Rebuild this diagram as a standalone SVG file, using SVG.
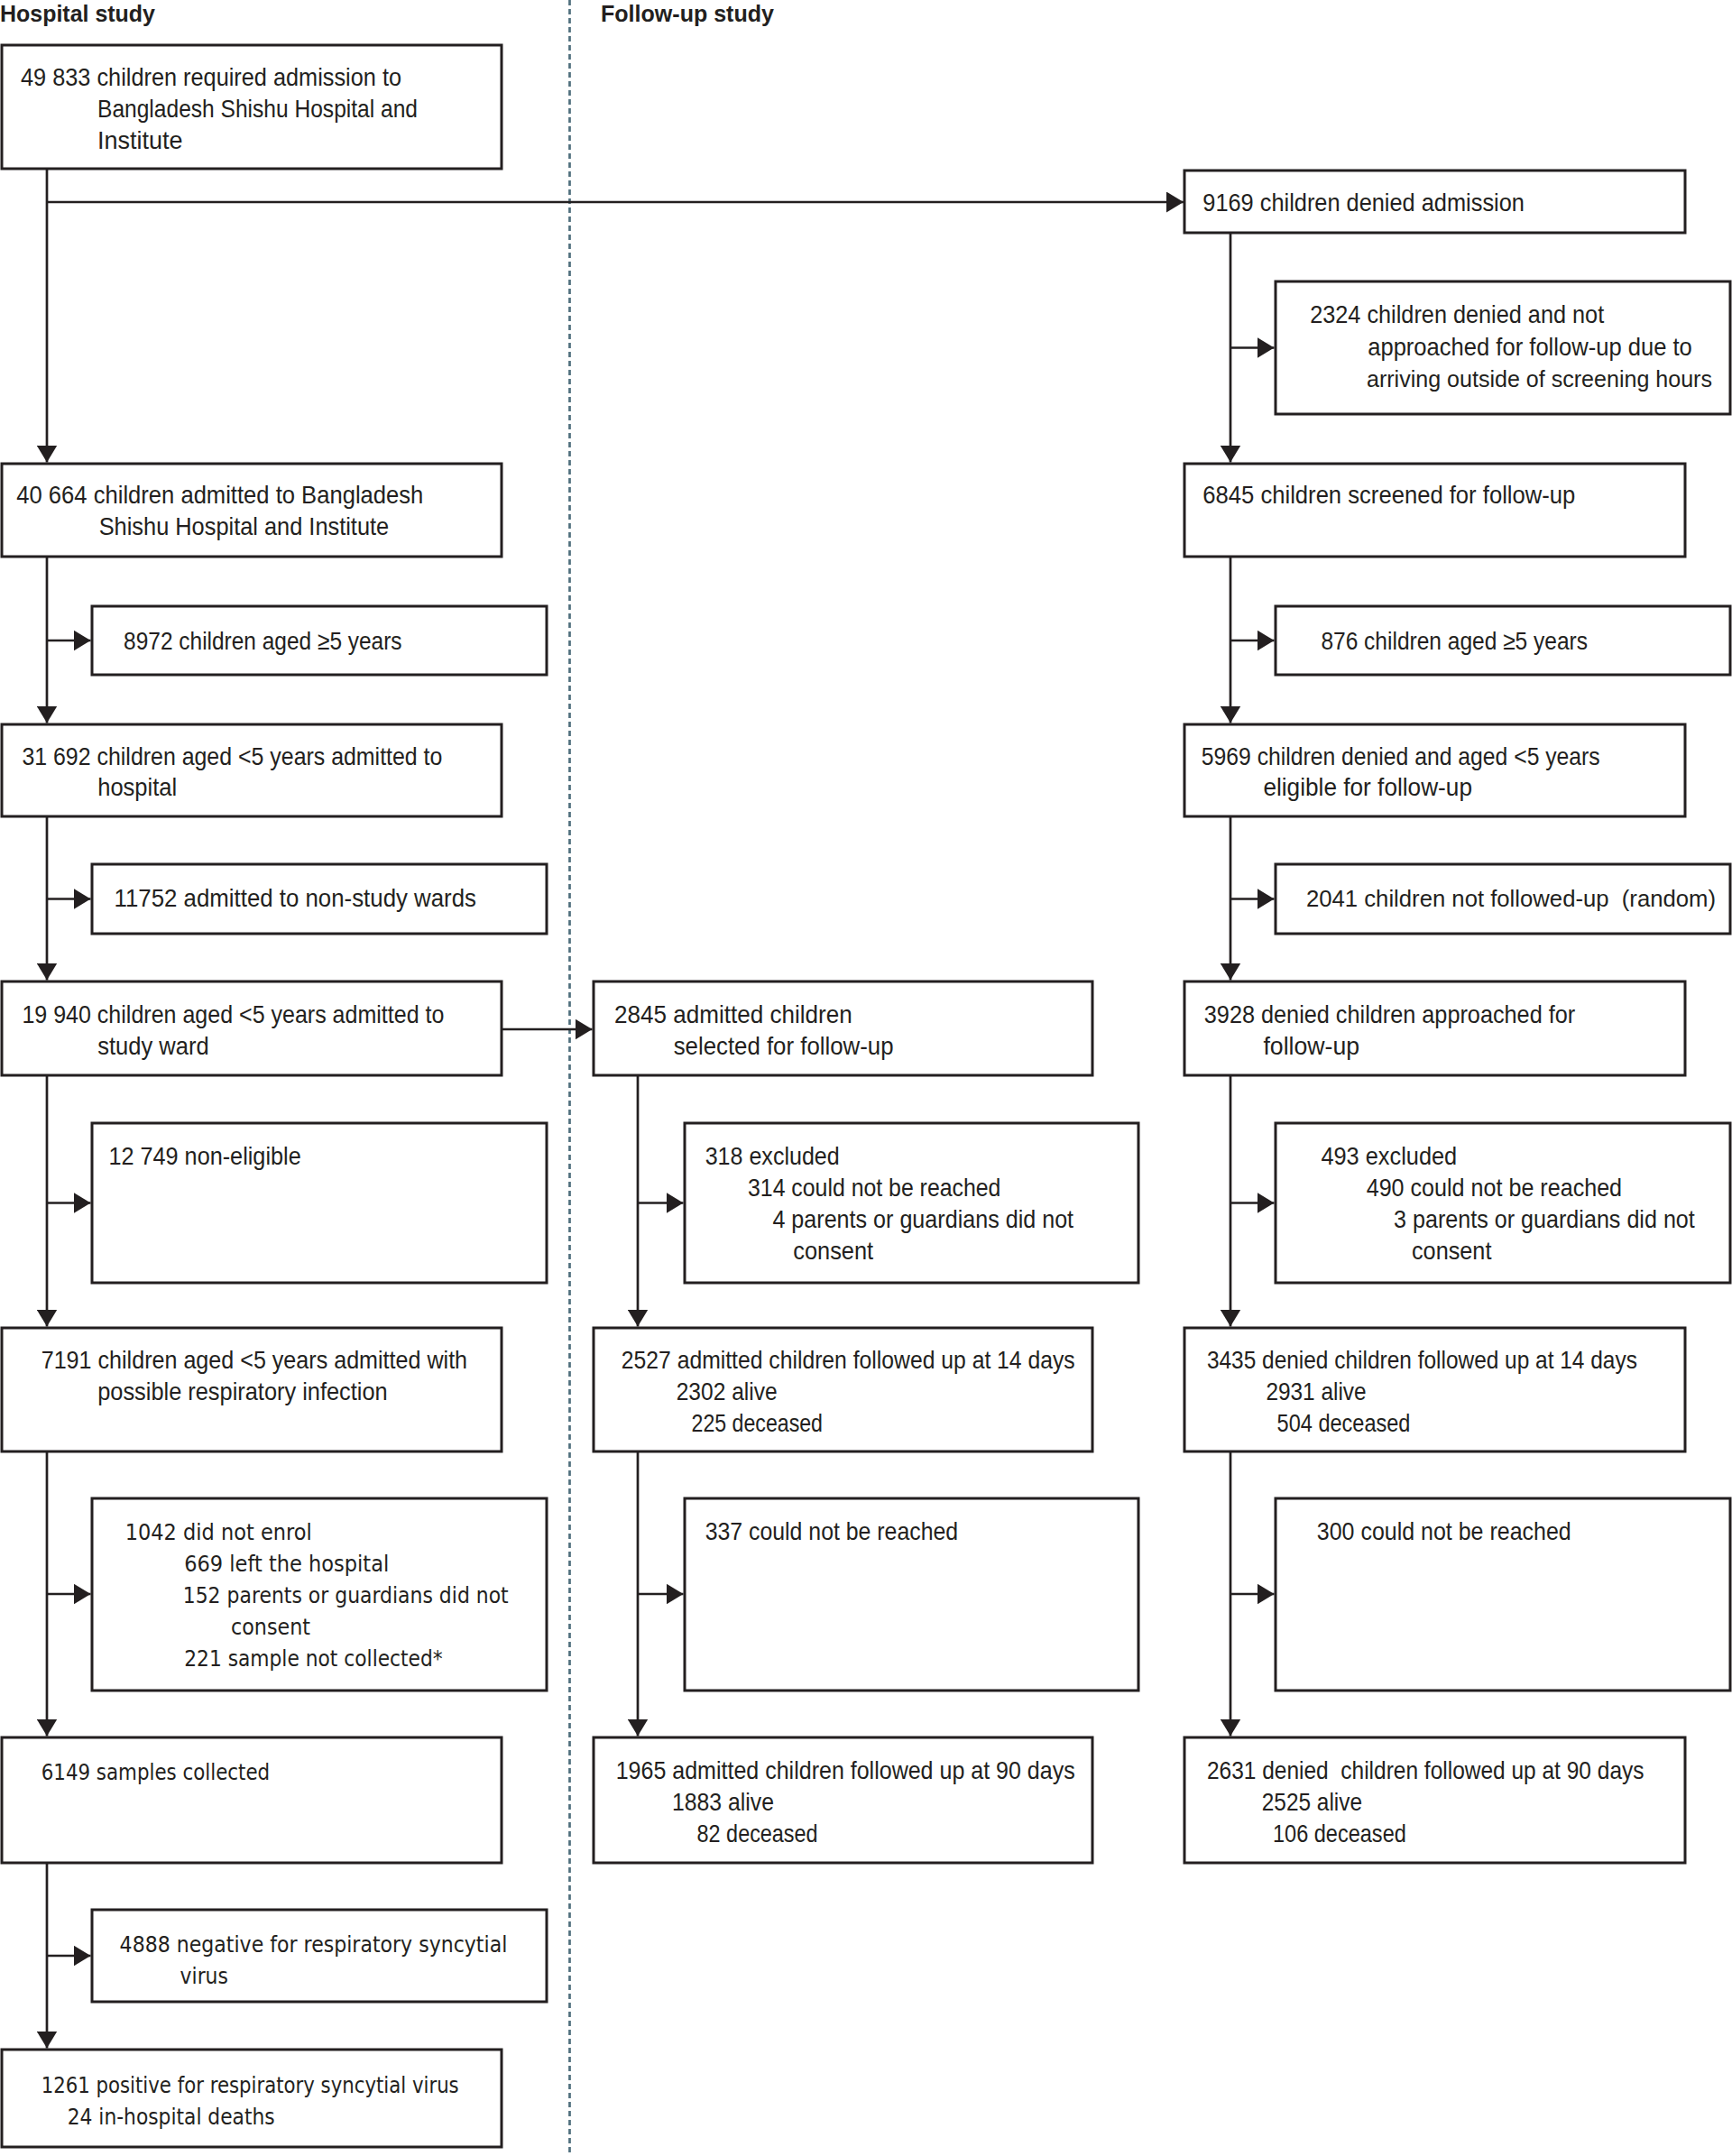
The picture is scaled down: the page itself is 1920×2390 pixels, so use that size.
<svg xmlns="http://www.w3.org/2000/svg" width="1920" height="2390" viewBox="0 0 1920 2390">
<style>
.bg{fill:#ffffff}
.box{fill:#ffffff;stroke:#231f20;stroke-width:3}
.c{stroke:#231f20;stroke-width:2.7;fill:none}
.t{font-family:"Liberation Sans Narrow","Liberation Sans",Arial,sans-serif;font-size:28px;fill:#231f20}
.s{font-size:26px}
.l{font-family:"DejaVu Sans","Noto Sans",sans-serif;font-size:25px;fill:#231f20}
.h{font-family:"Liberation Sans Narrow","Liberation Sans",Arial,sans-serif;font-size:26px;font-weight:bold;fill:#231f20}
.div{stroke:#4f6f7d;stroke-width:2.7;stroke-dasharray:6 4;fill:none}
</style>
<defs>
<marker id="ah" markerUnits="userSpaceOnUse" markerWidth="19" markerHeight="23" refX="19" refY="11.5" orient="auto">
<path d="M0,0 L19,11.5 L0,23 Z" fill="#231f20"/>
</marker>
</defs>
<rect class="bg" x="0" y="0" width="1920" height="2390"/>
<g id="headers">
<text class="h" x="0" y="24" textLength="172" lengthAdjust="spacingAndGlyphs">Hospital study</text>
<text class="h" x="666" y="24" textLength="192" lengthAdjust="spacingAndGlyphs">Follow-up study</text>
</g>
<line id="divider" class="div" x1="631.5" y1="0" x2="631.5" y2="2390"/>
<g id="connectors">
<line class="c" x1="52" y1="187.5" x2="52" y2="512.5" marker-end="url(#ah)"/>
<line class="c" x1="52" y1="224" x2="1312" y2="224" marker-end="url(#ah)"/>
<line class="c" x1="52" y1="617" x2="52" y2="801.5" marker-end="url(#ah)"/>
<line class="c" x1="52" y1="710" x2="100.5" y2="710" marker-end="url(#ah)"/>
<line class="c" x1="52" y1="905" x2="52" y2="1086.5" marker-end="url(#ah)"/>
<line class="c" x1="52" y1="996.5" x2="100.5" y2="996.5" marker-end="url(#ah)"/>
<line class="c" x1="52" y1="1192" x2="52" y2="1470.5" marker-end="url(#ah)"/>
<line class="c" x1="52" y1="1333.5" x2="100.5" y2="1333.5" marker-end="url(#ah)"/>
<line class="c" x1="556" y1="1141" x2="656.5" y2="1141" marker-end="url(#ah)"/>
<line class="c" x1="52" y1="1609" x2="52" y2="1924.5" marker-end="url(#ah)"/>
<line class="c" x1="52" y1="1767" x2="100.5" y2="1767" marker-end="url(#ah)"/>
<line class="c" x1="52" y1="2065" x2="52" y2="2270.5" marker-end="url(#ah)"/>
<line class="c" x1="52" y1="2168" x2="100.5" y2="2168" marker-end="url(#ah)"/>
<line class="c" x1="707" y1="1192" x2="707" y2="1470.5" marker-end="url(#ah)"/>
<line class="c" x1="707" y1="1333.5" x2="757.5" y2="1333.5" marker-end="url(#ah)"/>
<line class="c" x1="707" y1="1609" x2="707" y2="1924.5" marker-end="url(#ah)"/>
<line class="c" x1="707" y1="1767" x2="757.5" y2="1767" marker-end="url(#ah)"/>
<line class="c" x1="1364" y1="258" x2="1364" y2="512.5" marker-end="url(#ah)"/>
<line class="c" x1="1364" y1="385.5" x2="1412.5" y2="385.5" marker-end="url(#ah)"/>
<line class="c" x1="1364" y1="617" x2="1364" y2="801.5" marker-end="url(#ah)"/>
<line class="c" x1="1364" y1="710" x2="1412.5" y2="710" marker-end="url(#ah)"/>
<line class="c" x1="1364" y1="905" x2="1364" y2="1086.5" marker-end="url(#ah)"/>
<line class="c" x1="1364" y1="996.5" x2="1412.5" y2="996.5" marker-end="url(#ah)"/>
<line class="c" x1="1364" y1="1192" x2="1364" y2="1470.5" marker-end="url(#ah)"/>
<line class="c" x1="1364" y1="1333.5" x2="1412.5" y2="1333.5" marker-end="url(#ah)"/>
<line class="c" x1="1364" y1="1609" x2="1364" y2="1924.5" marker-end="url(#ah)"/>
<line class="c" x1="1364" y1="1767" x2="1412.5" y2="1767" marker-end="url(#ah)"/>
</g>
<g id="n-required">
<rect class="box" x="2" y="50" width="554" height="137"/>
<text class="t" x="23" y="95" textLength="422" lengthAdjust="spacingAndGlyphs">49 833 children required admission to</text>
<text class="t" x="108" y="130" textLength="355" lengthAdjust="spacingAndGlyphs">Bangladesh Shishu Hospital and</text>
<text class="t" x="108" y="165" textLength="94.5" lengthAdjust="spacingAndGlyphs">Institute</text>
</g>
<g id="n-admitted">
<rect class="box" x="2" y="514" width="554" height="103"/>
<text class="t" x="18.3" y="558" textLength="451" lengthAdjust="spacingAndGlyphs">40 664 children admitted to Bangladesh</text>
<text class="t" x="109.7" y="593" textLength="321.5" lengthAdjust="spacingAndGlyphs">Shishu Hospital and Institute</text>
</g>
<g id="n-aged5">
<rect class="box" x="102" y="672" width="504" height="76"/>
<text class="t" x="137.1" y="720" textLength="308.5" lengthAdjust="spacingAndGlyphs">8972 children aged ≥5 years</text>
</g>
<g id="n-under5">
<rect class="box" x="2" y="803" width="554" height="102"/>
<text class="t" x="24.4" y="848" textLength="466" lengthAdjust="spacingAndGlyphs">31 692 children aged &lt;5 years admitted to</text>
<text class="t" x="108.2" y="882" textLength="88" lengthAdjust="spacingAndGlyphs">hospital</text>
</g>
<g id="n-nonstudy">
<rect class="box" x="102" y="958" width="504" height="77"/>
<text class="t" x="126.5" y="1004.5" textLength="401.5" lengthAdjust="spacingAndGlyphs">11752 admitted to non-study wards</text>
</g>
<g id="n-studyward">
<rect class="box" x="2" y="1088" width="554" height="104"/>
<text class="t" x="24.4" y="1134" textLength="468" lengthAdjust="spacingAndGlyphs">19 940 children aged &lt;5 years admitted to</text>
<text class="t" x="108.2" y="1169" textLength="123.4" lengthAdjust="spacingAndGlyphs">study ward</text>
</g>
<g id="n-noneligible">
<rect class="box" x="102" y="1245" width="504" height="177"/>
<text class="t" x="120.4" y="1291" textLength="213.3" lengthAdjust="spacingAndGlyphs">12 749 non-eligible</text>
</g>
<g id="n-respiratory">
<rect class="box" x="2" y="1472" width="554" height="137"/>
<text class="t" x="45.7" y="1516.5" textLength="472.4" lengthAdjust="spacingAndGlyphs">7191 children aged &lt;5 years admitted with</text>
<text class="t" x="108.2" y="1551.6" textLength="321.5" lengthAdjust="spacingAndGlyphs">possible respiratory infection</text>
</g>
<g id="n-notenrol">
<rect class="box" x="102" y="1661" width="504" height="213"/>
<text class="l" x="138.7" y="1707" textLength="207" lengthAdjust="spacingAndGlyphs">1042 did not enrol</text>
<text class="l" x="204.2" y="1742" textLength="227" lengthAdjust="spacingAndGlyphs">669 left the hospital</text>
<text class="l" x="202.7" y="1777" textLength="361" lengthAdjust="spacingAndGlyphs">152 parents or guardians did not</text>
<text class="l" x="256" y="1812" textLength="88" lengthAdjust="spacingAndGlyphs">consent</text>
<text class="l" x="204.2" y="1847" textLength="286.5" lengthAdjust="spacingAndGlyphs">221 sample not collected*</text>
</g>
<g id="n-samples">
<rect class="box" x="2" y="1926" width="554" height="139"/>
<text class="l" x="45.7" y="1973" textLength="253.5" lengthAdjust="spacingAndGlyphs">6149 samples collected</text>
</g>
<g id="n-negative">
<rect class="box" x="102" y="2117" width="504" height="102"/>
<text class="l" x="132.6" y="2164" textLength="429.7" lengthAdjust="spacingAndGlyphs">4888 negative for respiratory syncytial</text>
<text class="l" x="199.6" y="2199" textLength="53.3" lengthAdjust="spacingAndGlyphs">virus</text>
</g>
<g id="n-positive">
<rect class="box" x="2" y="2272" width="554" height="108"/>
<text class="l" x="45.7" y="2319.6" textLength="463" lengthAdjust="spacingAndGlyphs">1261 positive for respiratory syncytial virus</text>
<text class="l" x="74.7" y="2354.6" textLength="230" lengthAdjust="spacingAndGlyphs">24 in-hospital deaths</text>
</g>
<g id="n-selected">
<rect class="box" x="658" y="1088" width="553" height="104"/>
<text class="t" x="681.1" y="1134" textLength="263.6" lengthAdjust="spacingAndGlyphs">2845 admitted children</text>
<text class="t" x="746.7" y="1169" textLength="243.8" lengthAdjust="spacingAndGlyphs">selected for follow-up</text>
</g>
<g id="n-excluded-adm">
<rect class="box" x="759" y="1245" width="503" height="177"/>
<text class="t" x="781.7" y="1291" textLength="149" lengthAdjust="spacingAndGlyphs">318 excluded</text>
<text class="t" x="829" y="1326" textLength="280.4" lengthAdjust="spacingAndGlyphs">314 could not be reached</text>
<text class="t" x="856.4" y="1361" textLength="333.7" lengthAdjust="spacingAndGlyphs">4 parents or guardians did not</text>
<text class="t" x="879.2" y="1396" textLength="89" lengthAdjust="spacingAndGlyphs">consent</text>
</g>
<g id="n-adm14">
<rect class="box" x="658" y="1472" width="553" height="137"/>
<text class="t" x="688.8" y="1516.5" textLength="502.9" lengthAdjust="spacingAndGlyphs">2527 admitted children followed up at 14 days</text>
<text class="t" x="749.7" y="1551.6" textLength="112" lengthAdjust="spacingAndGlyphs">2302 alive</text>
<text class="t" x="766.5" y="1586.6" textLength="145.5" lengthAdjust="spacingAndGlyphs">225 deceased</text>
</g>
<g id="n-notreached-adm">
<rect class="box" x="759" y="1661" width="503" height="213"/>
<text class="t" x="781.7" y="1707" textLength="280.4" lengthAdjust="spacingAndGlyphs">337 could not be reached</text>
</g>
<g id="n-adm90">
<rect class="box" x="658" y="1926" width="553" height="139"/>
<text class="t" x="682.7" y="1972" textLength="509" lengthAdjust="spacingAndGlyphs">1965 admitted children followed up at 90 days</text>
<text class="t" x="745.1" y="2007" textLength="112.8" lengthAdjust="spacingAndGlyphs">1883 alive</text>
<text class="t" x="772.6" y="2042" textLength="134" lengthAdjust="spacingAndGlyphs">82 deceased</text>
</g>
<g id="n-denied">
<rect class="box" x="1313" y="189" width="555" height="69"/>
<text class="t" x="1333.3" y="233.5" textLength="356.6" lengthAdjust="spacingAndGlyphs">9169 children denied admission</text>
</g>
<g id="n-outside">
<rect class="box" x="1414" y="312" width="504" height="147"/>
<text class="t" x="1452.2" y="358.4" textLength="326" lengthAdjust="spacingAndGlyphs">2324 children denied and not</text>
<text class="t" x="1516.2" y="393.5" textLength="359.6" lengthAdjust="spacingAndGlyphs">approached for follow-up due to</text>
<text class="t s" x="1515" y="428.5" textLength="383" lengthAdjust="spacingAndGlyphs">arriving outside of screening hours</text>
</g>
<g id="n-screened">
<rect class="box" x="1313" y="514" width="555" height="103"/>
<text class="t" x="1333.3" y="558" textLength="413" lengthAdjust="spacingAndGlyphs">6845 children screened for follow-up</text>
</g>
<g id="n-aged5-den">
<rect class="box" x="1414" y="672" width="504" height="76"/>
<text class="t" x="1464.4" y="720" textLength="295.6" lengthAdjust="spacingAndGlyphs">876 children aged ≥5 years</text>
</g>
<g id="n-eligible">
<rect class="box" x="1313" y="803" width="555" height="102"/>
<text class="t" x="1331.8" y="848" textLength="441.9" lengthAdjust="spacingAndGlyphs">5969 children denied and aged &lt;5 years</text>
<text class="t" x="1400.4" y="882" textLength="231.6" lengthAdjust="spacingAndGlyphs">eligible for follow-up</text>
</g>
<g id="n-random">
<rect class="box" x="1414" y="958" width="504" height="77"/>
<text class="t s" x="1448" y="1004.5" textLength="454" lengthAdjust="spacingAndGlyphs" xml:space="preserve">2041 children not followed-up  (random)</text>
</g>
<g id="n-approached">
<rect class="box" x="1313" y="1088" width="555" height="104"/>
<text class="t" x="1334.8" y="1134" textLength="411.4" lengthAdjust="spacingAndGlyphs">3928 denied children approached for</text>
<text class="t" x="1400.4" y="1169" textLength="106.7" lengthAdjust="spacingAndGlyphs">follow-up</text>
</g>
<g id="n-excluded-den">
<rect class="box" x="1414" y="1245" width="504" height="177"/>
<text class="t" x="1464.4" y="1291" textLength="150.8" lengthAdjust="spacingAndGlyphs">493 excluded</text>
<text class="t" x="1514.7" y="1326" textLength="283.4" lengthAdjust="spacingAndGlyphs">490 could not be reached</text>
<text class="t" x="1545.1" y="1361" textLength="333.7" lengthAdjust="spacingAndGlyphs">3 parents or guardians did not</text>
<text class="t" x="1565" y="1396" textLength="88.4" lengthAdjust="spacingAndGlyphs">consent</text>
</g>
<g id="n-den14">
<rect class="box" x="1313" y="1472" width="555" height="137"/>
<text class="t" x="1337.9" y="1516.5" textLength="477" lengthAdjust="spacingAndGlyphs">3435 denied children followed up at 14 days</text>
<text class="t" x="1403.4" y="1551.6" textLength="111.2" lengthAdjust="spacingAndGlyphs">2931 alive</text>
<text class="t" x="1415.6" y="1586.6" textLength="147.8" lengthAdjust="spacingAndGlyphs">504 deceased</text>
</g>
<g id="n-notreached-den">
<rect class="box" x="1414" y="1661" width="504" height="213"/>
<text class="t" x="1459.8" y="1707" textLength="281.9" lengthAdjust="spacingAndGlyphs">300 could not be reached</text>
</g>
<g id="n-den90">
<rect class="box" x="1313" y="1926" width="555" height="139"/>
<text class="t" x="1337.9" y="1972" textLength="484.6" lengthAdjust="spacingAndGlyphs" xml:space="preserve">2631 denied  children followed up at 90 days</text>
<text class="t" x="1398.8" y="2007" textLength="111.2" lengthAdjust="spacingAndGlyphs">2525 alive</text>
<text class="t" x="1411" y="2042" textLength="147.8" lengthAdjust="spacingAndGlyphs">106 deceased</text>
</g>
</svg>
